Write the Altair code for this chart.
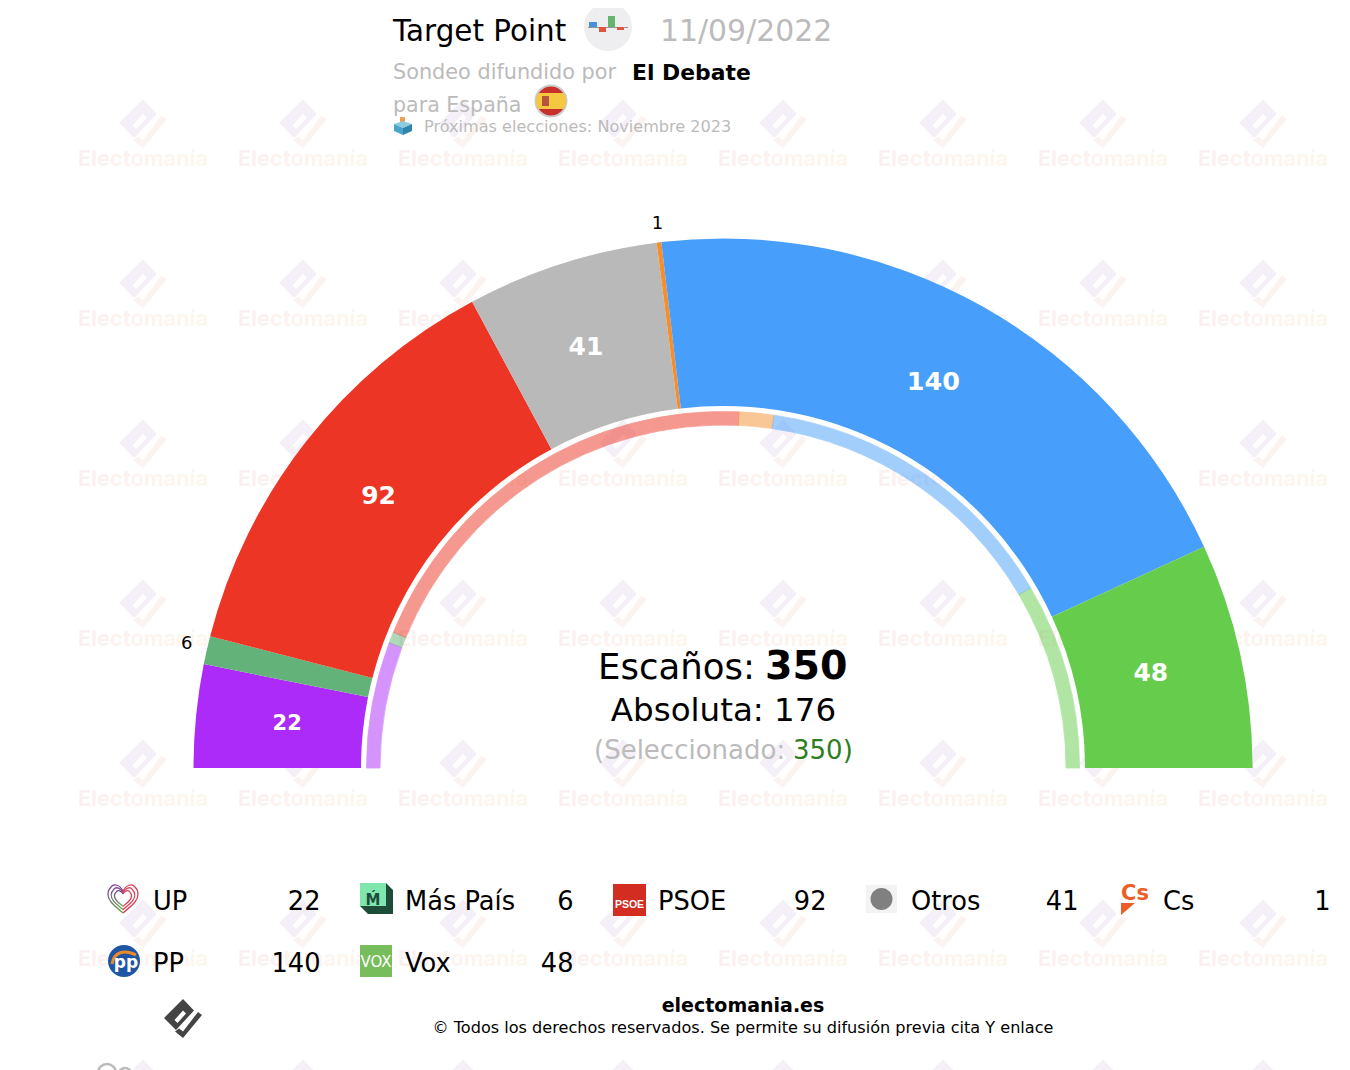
import math
import altair as alt
import pandas as pd

# ---- chart values
parties = ["UP", "Más País", "PSOE", "Otros", "Cs", "PP", "Vox"]
seats = [22, 6, 92, 41, 1, 140, 48]
colors = ["#AD2BF9", "#62B279", "#EC3524", "#B9B9B9", "#F58F2D", "#479FFB", "#66CC4C"]
previous = [40, 3.5, 136.5, 11, 100, 59]
prev_parties = ["UP", "Más País", "PSOE", "Cs", "PP", "Vox"]
total = 350
majority = 176

# ---- page layout (page pixels; the view starts 8px in)
W, H = 1334, 1062
CX, CY = 723 - 8, 768 - 8
FONT = "DejaVu Sans"
# fine placement of the seat labels: party -> (font size, radius, dx, dy)
label_style = {
    "UP": (21, 440, 2, -1),
    "Más País": (18, 550, 0, -2),
    "PSOE": (25, 440, 2, -1),
    "Otros": (25, 440, -3, -2),
    "Cs": (18, 550, 1, 2),
    "PP": (25.5, 440, -5, -2),
    "Vox": (25, 440, -2, -1),
}


def px(v):
    return v - 8


one = alt.Data(values=[{"k": 0}])


def text(s, x, y, size, color="#000000", weight="normal", align="left", font=FONT, baseline="alphabetic"):
    return alt.Chart(one).mark_text(
        text=s, fontSize=size, color=color, fontWeight=weight, align=align,
        baseline=baseline, font=font,
    ).encode(x=alt.value(px(x)), y=alt.value(px(y)))


def shape(path, x, y, fill=None, stroke=None, sw=1.0, scale=1.0, opacity=1.0):
    kw = {"shape": path, "size": 4 * scale * scale, "opacity": opacity}
    if fill is not None:
        kw.update(filled=True, fill=fill)
    else:
        kw.update(filled=False, fill="transparent")
    if stroke is not None:
        kw.update(stroke=stroke, strokeWidth=sw)
    else:
        kw.update(strokeWidth=0)
    return alt.Chart(one).mark_point(**kw).encode(x=alt.value(px(x)), y=alt.value(px(y)))


def circle(r):
    return f"M{-r},0A{r},{r} 0 1 1 {r},0A{r},{r} 0 1 1 {-r},0Z"


def rect(x0, y0, x1, y1):
    return f"M{x0},{y0}L{x1},{y0}L{x1},{y1}L{x0},{y1}Z"


def grad(c0, c1, x2=1, y2=0):
    return alt.LinearGradient(
        gradient="linear", x1=0, y1=0, x2=x2, y2=y2,
        stops=[alt.GradientStop(color=c0, offset=0), alt.GradientStop(color=c1, offset=1)],
    )


layers = []

# ---- watermark grid
DIAMOND = "M0,-19L11,-7.5L-7,12L-19,0ZM-8.5,2L-5.5,5L3,-4.5L0,-7.5Z"
CHECK = "M19,-3L0,20L-8,13.5L-4,10.5L0,13.5L15,-6Z"
grid_x = [143 + 160 * i for i in range(8)]
wm_text = pd.DataFrame([{"x": px(x), "y": px(158.5 + 160 * j)} for x in grid_x for j in range(6)])
wm_logo = pd.DataFrame([{"x": px(x), "y": px(123 + 160 * j)} for x in grid_x for j in range(7)])
WM_SIZE = 4 * 1.25 * 1.25
layers.append(
    alt.Chart(wm_logo).mark_point(
        shape=DIAMOND, size=WM_SIZE, filled=True, fill="#f5f0f8", strokeWidth=0, opacity=1
    ).encode(x=alt.X("x:Q", scale=None), y=alt.Y("y:Q", scale=None))
)
layers.append(
    alt.Chart(wm_logo).mark_point(
        shape=CHECK, size=WM_SIZE, filled=True, fill="#fbf3ef", strokeWidth=0, opacity=1
    ).encode(x=alt.X("x:Q", scale=None), y=alt.Y("y:Q", scale=None))
)
layers.append(
    alt.Chart(wm_text).mark_text(
        text="Electomanía", font="Inter", fontWeight="bold", fontSize=21.7,
        align="center", baseline="middle", fill=grad("#fbf0f1", "#fef7ee"),
    ).encode(x=alt.X("x:Q", scale=None), y=alt.Y("y:Q", scale=None))
)

# ---- hemicycle
main = pd.DataFrame({"party": parties, "seats": seats})
main["end"] = main["seats"].cumsum()
main["start"] = main["end"] - main["seats"]
main["mid"] = (main["start"] + main["end"]) / 2

prev = pd.DataFrame({"party": prev_parties, "seats": previous})
prev["end"] = prev["seats"].cumsum()
prev["start"] = prev["end"] - prev["seats"]

theta_scale = alt.Scale(domain=[0, total], range=[-math.pi / 2, math.pi / 2])
color_enc = alt.Color("party:N", scale=alt.Scale(domain=parties, range=colors), legend=None)
center = dict(x=alt.value(CX), y=alt.value(CY))

layers.append(
    alt.Chart(prev).mark_arc(radius=356.5, radius2=343, opacity=0.5, strokeWidth=0.8).encode(
        theta=alt.Theta("start:Q", scale=theta_scale, stack=False), theta2="end:Q",
        color=color_enc, stroke=alt.Color("party:N", scale=alt.Scale(domain=parties, range=colors), legend=None), **center,
    )
)
layers.append(
    alt.Chart(main).mark_arc(radius=529.5, radius2=362).encode(
        theta=alt.Theta("start:Q", scale=theta_scale, stack=False), theta2="end:Q",
        color=color_enc, **center,
    )
)
for party, (size, radius, dx, dy) in label_style.items():
    inside = radius < 500
    layers.append(
        alt.Chart(main[main["party"] == party]).mark_text(
            radius=radius, font=FONT, fontWeight="bold" if inside else "normal", fontSize=size,
            color="#ffffff" if inside else "#000000", align="center", baseline="middle", dx=dx, dy=dy,
        ).encode(
            theta=alt.Theta("mid:Q", scale=theta_scale, stack=False), text="seats:Q", **center,
        )
    )

# ---- header
layers += [
    text("Target Point", 393, 41, 29.4),
    text("11/09/2022", 660, 41, 29.9, "#bbbbbb"),
    text("Sondeo difundido por", 393, 79, 20.8, "#bbbbbb"),
    text("El Debate", 632, 79.5, 21.9, weight="bold"),
    text("para España", 393, 112, 20.6, "#bbbbbb"),
    text("Próximas elecciones: Noviembre 2023", 424, 132, 16.1, "#bbbbbb"),
]
# pollster badge
layers += [
    shape(circle(24), 608, 27, fill="#eeedef"),
    shape(rect(-20, 0, 20, 0.8), 608, 27, fill="#777777"),
    shape(rect(-19, -5, -11, 0), 608, 27, fill="#4a90d6"),
    shape(rect(-9, 0, -2, 5), 608, 27, fill="#e0553c"),
    shape(rect(0, -11, 7, 0), 608, 27, fill="#62b56a"),
    shape(rect(9, 0, 16, 3), 608, 27, fill="#e0553c"),
]
# flag
layers += [
    shape(circle(15.5), 551, 101, fill="#c8302c", stroke="#cccccc", sw=2),
    shape("M-12.7,-8L12.7,-8A15,15 0 0 1 12.7,8L-12.7,8A15,15 0 0 1 -12.7,-8Z", 551, 101, fill="#f5c842"),
    shape(rect(-9, -5, -2, 5), 551, 101, fill="#b5553c"),
]
# ballot box
layers += [
    shape("M-3,-10L2,-10L2,-2L-3,-2Z", 403, 127, fill="#f0a050"),
    shape("M-9,-3L0,-6L9,-3L0,1Z", 403, 127, fill="#8ccbe0"),
    shape("M-9,-3L0,1L0,8L-9,4Z", 403, 127, fill="#4aa3c9"),
    shape("M0,1L9,-3L9,4L0,8Z", 403, 127, fill="#2f85ad"),
]

# ---- centre text
layers += [
    text("Escaños:", 598, 679, 35.5),
    text(str(total), 765, 679, 39.5, weight="bold"),
    text(f"Absoluta: {majority}", 723.5, 721, 32.5, align="center"),
    text("(Seleccionado:", 594, 759, 26, "#bbbbbb"),
    text(f"{total})", 793, 759, 26, "#2e7d1e"),
]

# ---- legend
col_name = [153, 405, 658, 911, 1163]
col_val = [320.5, 573.5, 826.5, 1078.5, 1330.5]
row_y = [910, 972]
rows = []
for i, (p, s) in enumerate(zip(parties, seats)):
    c, r = i % 5, i // 5
    rows.append({"name": p, "value": s, "xn": px(col_name[c]), "xv": px(col_val[c]), "y": px(row_y[r])})
legend = pd.DataFrame(rows)
layers.append(
    alt.Chart(legend).mark_text(font=FONT, fontSize=25.7, align="left", baseline="alphabetic", color="#000000").encode(
        x=alt.X("xn:Q", scale=None), y=alt.Y("y:Q", scale=None), text="name:N")
)
layers.append(
    alt.Chart(legend).mark_text(font=FONT, fontSize=25.7, align="right", baseline="alphabetic", color="#000000").encode(
        x=alt.X("xv:Q", scale=None), y=alt.Y("y:Q", scale=None), text="value:Q")
)

# legend icons
HEART_L = "M0,-7C-3,-13 -9,-15 -12,-11C-16,-7 -16,-1 -12,4C-8,9 -3,12 0,15"
HEART_R = "M0,-7C3,-13 9,-15 12,-11C16,-7 16,-1 12,4C8,9 3,12 0,15"
for s in [1.0, 0.78, 0.56]:
    layers.append(shape(HEART_L, 123, 898, stroke=grad("#7b3f98", "#6aa84f", 0, 1), sw=1.3, scale=s))
    layers.append(shape(HEART_R, 123, 898, stroke="#d9435a", sw=1.3, scale=s))
layers += [
    shape("M10,-17L17,-10L17,14L-8,14L-16,6L10,6Z", 376, 900, fill="#1f4c38"),
    shape(rect(-16, -17, 10, 6), 376, 900, fill="#7fe7ae"),
    text("Ḿ", 373, 905, 15, "#1f4c38", weight="bold", align="center"),
    shape(rect(-16.5, -16, 16.5, 16), 629.5, 900, fill="#d32c20"),
    text("PSOE", 629.5, 908, 10.5, "#ffffff", weight="bold", align="center", font="Liberation Sans"),
    shape(rect(-15.5, -14, 15.5, 14), 881.5, 899, fill="#f3f3f3"),
    shape(circle(11), 881.5, 899, fill="#808080"),
    text("Cs", 1135, 900, 21, "#EB5E28", weight="bold", align="center"),
    shape("M-14,-6L0,-6L-14,6Z", 1135, 909, fill="#EB5E28"),
    shape(circle(16), 124, 961, fill="#1f56a3"),
    shape("M-12,3C-10,-9 0,-12 12,-6", 124, 961, stroke="#ea8a2a", sw=3),
    text("pp", 126, 968, 17, "#ffffff", weight="bold", align="center"),
    shape(rect(-16, -16, 16, 16), 376, 961, fill="#77bd5b"),
    text("VOX", 376, 967, 15, "#ffffff", align="center"),
]

# ---- footer
layers += [
    shape(DIAMOND, 183, 1018, fill="#444444"),
    shape(CHECK, 183, 1018, fill="#444444"),
    shape(circle(9), 107, 1073, stroke="#bbbbbb", sw=2.5),
    shape(circle(6), 125, 1074, stroke="#bbbbbb", sw=2.5),
    text("electomania.es", 743, 1012, 19, weight="bold", align="center"),
    text("© Todos los derechos reservados. Se permite su difusión previa cita Y enlace", 743, 1033, 16.1, align="center"),
]

chart = alt.layer(*layers).properties(
    width=W, height=H, padding=0, autosize=alt.AutoSizeParams(type="none"),
).configure_view(stroke=None)

chart.save("out.html", embed_options={"renderer": "svg", "actions": False})
